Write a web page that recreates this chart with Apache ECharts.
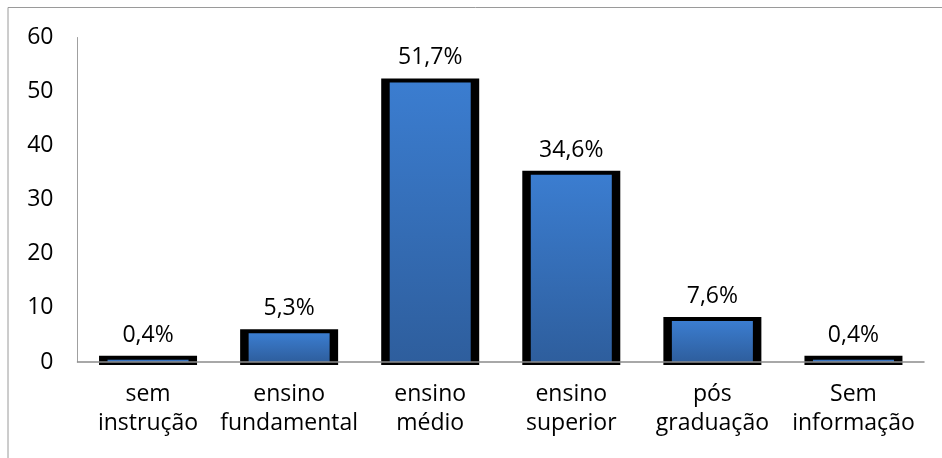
<!DOCTYPE html>
<html>
<head>
<meta charset="utf-8">
<script src="https://cdn.jsdelivr.net/npm/echarts@6/dist/echarts.min.js"></script>
<style>
html,body{margin:0;padding:0;background:#fff;}
#chart{width:942px;height:458px;}
</style>
</head>
<body>
<div id="chart"></div>
<script>
const categories = ['sem\ninstrução', 'ensino\nfundamental', 'ensino\nmédio', 'ensino\nsuperior', 'pós\ngraduação', 'Sem\ninformação'];
const values = [0.4, 5.3, 51.7, 34.6, 7.6, 0.4];
const yMin = 0, yMax = 60, yInterval = 10;

const FONT = 'Open Sans';
const FS = 23;
const chart = echarts.init(document.getElementById('chart'), null, {renderer: 'canvas'});

const blueGrad = new echarts.graphic.LinearGradient(0, 0, 0, 1, [
  {offset: 0, color: '#3b7dd0'},
  {offset: 1, color: '#2e5e9d'}
]);

chart.setOption({
  animation: false,
  graphic: [{
    type: 'rect', silent: true, z: -10,
    shape: {x: 8, y: 7.5, width: 1200, height: 1200},
    style: {fill: 'none', stroke: '#9a9a9a', lineWidth: 1}
  }],
  grid: {left: 77.5, right: 18, top: 37.5, bottom: 96, containLabel: false},
  xAxis: {
    type: 'category', data: categories, z: 5,
    axisLine: {show: true, lineStyle: {color: '#8c8c8c', width: 1.5}},
    axisTick: {show: false},
    axisLabel: {fontFamily: FONT, fontSize: FS, color: '#000', lineHeight: 29, margin: 18, interval: 0}
  },
  yAxis: {
    type: 'value', min: yMin, max: yMax, interval: yInterval,
    axisLine: {show: true, lineStyle: {color: '#a0a0a0', width: 1}},
    axisTick: {show: false},
    splitLine: {show: false},
    axisLabel: {fontFamily: FONT, fontSize: FS, color: '#000', margin: 24}
  },
  series: [{
    type: 'custom', z: 1, silent: true,
    data: values.map((v, i) => [i, v]),
    renderItem: function (params, api) {
      const top = api.coord([api.value(0), api.value(1)]);
      const base = api.coord([api.value(0), 0]);
      const w = 98;
      return {
        type: 'rect',
        shape: {x: top[0] - w / 2, y: top[1] - 4, width: w, height: base[1] - top[1] + 7},
        style: {fill: '#000'}
      };
    }
  }, {
    type: 'bar', data: values, barWidth: 81, z: 2,
    itemStyle: {color: blueGrad},
    label: {
      show: true, position: 'top', distance: 13,
      fontFamily: FONT, fontSize: FS, color: '#000',
      formatter: p => p.value.toFixed(1).replace('.', ',') + '%'
    }
  }]
});
</script>
</body>
</html>
